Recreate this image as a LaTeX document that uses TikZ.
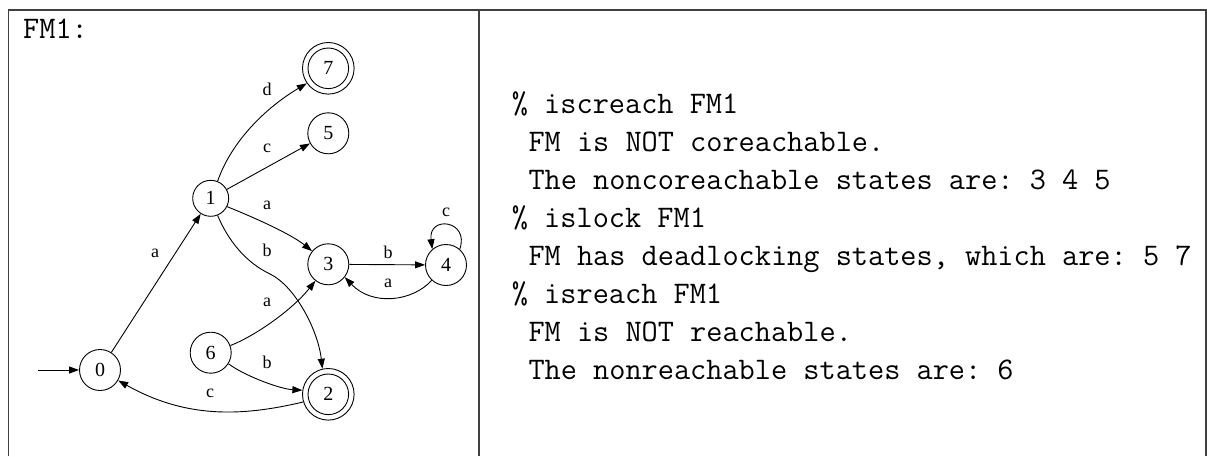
\documentclass[tikz,border=0pt]{standalone}
\usepackage{fontspec}
\newfontfamily\graphfont{Liberation Serif}
\usetikzlibrary{arrows.meta}
\frenchspacing
\begin{document}
\begin{tikzpicture}[x=1pt,y=-1pt,
  state/.style={circle,draw,line width=0.9pt,inner sep=0pt,minimum size=41pt,
    font=\graphfont\fontsize{20}{20}\selectfont},
  accept/.style={state,minimum size=51.6pt},
  lbl/.style={inner sep=0pt,font=\graphfont\fontsize{18}{18}\selectfont},
  edge/.style={draw,line width=0.9pt,-{Triangle[length=10pt,width=7pt]}},
  frame/.style={draw=black!75,line width=1.6pt},
  ttline/.style={anchor=base west,inner sep=0pt,font=\ttfamily\frenchspacing\fontsize{31.4}{38}\selectfont}]
\useasboundingbox (0,0) rectangle (1207,456);

% table frame (open at the bottom)
\draw[frame] (8.5,456) -- (8.5,10) -- (1206,10) -- (1206,456);
\draw[frame] (479,10) -- (479,456);

% left cell title
\node[ttline] (title) at (23,38) {FM1:};

% states
\node[state] (n0) at (100,370) {0};
\node[state,minimum size=36pt] (n1) at (210.7,198.3) {1};
\node[accept] (n2) at (328.3,394.3) {2};
\node[state] (n3) at (328.3,264.3) {3};
\node[state] (n4) at (446,265) {4};
\node[state] (n5) at (328.3,133.3) {5};
\node[state] (n6) at (210.7,352.7) {6};
\node[accept] (n7) at (328.3,68.3) {7};
\draw[line width=0.9pt] (n2.center) circle[radius=20.3pt];
\draw[line width=0.9pt] (n7.center) circle[radius=20.3pt];

% initial arrow
\coordinate (start) at (38.3,370);
\draw[edge] (start) -- (n0);

% transitions
\draw[edge] (n0) -- (n1);
\draw[edge] (n1.68) .. controls (232,140) and (267,107) .. (n7.215);
\draw[edge] (n1) -- (n5);
\draw[edge] (n1.-27) .. controls (253,217) and (291,234) .. (n3.141);
\draw[edge] (n1.-68) .. controls (228,240) and (245,262) .. (270,274)
                     .. controls (295,286) and (318,330) .. (n2.103);
\draw[edge] (n3) -- (n4);
\draw[edge] (n4.227) .. controls (412,302) and (372,306) .. (n3.-38);
\draw[edge] (n4.49) .. controls (470,220) and (428,215) .. (n4.131);
\draw[edge] (n6.20) .. controls (255,336) and (292,310) .. (n3.232);
\draw[edge] (n6.-32) .. controls (245,376) and (280,389) .. (n2.171);
\draw[edge] (n2.197) .. controls (240,417) and (185,418) .. (n0.-30);

% transition labels
\node[lbl] (l01) at (155,253) {a};
\node[lbl] (l17) at (267,89) {d};
\node[lbl] (l15) at (267,148) {c};
\node[lbl] (l13) at (267,205) {a};
\node[lbl] (l12) at (267,250) {b};
\node[lbl] (l34) at (388,252) {b};
\node[lbl] (l43) at (388,283) {a};
\node[lbl] (l44) at (446,212) {c};
\node[lbl] (l63) at (267,302) {a};
\node[lbl] (l62) at (267,362) {b};
\node[lbl] (l20) at (210,393) {c};

% session output
\node[ttline] (t1) at (511.7,113.3) {\% iscreach FM1};
\node[ttline] (t2) at (528.3,151.3) {FM is NOT coreachable.};
\node[ttline] (t3) at (528.3,189.3) {The noncoreachable states are: 3 4 5};
\node[ttline] (t4) at (511.7,227.3) {\% islock FM1};
\node[ttline] (t5) at (528.3,265.3) {FM has deadlocking states, which are: 5 7};
\node[ttline] (t6) at (511.7,303.3) {\% isreach FM1};
\node[ttline] (t7) at (528.3,341.3) {FM is NOT reachable.};
\node[ttline] (t8) at (528.3,379.3) {The nonreachable states are: 6};
\end{tikzpicture}
\end{document}
